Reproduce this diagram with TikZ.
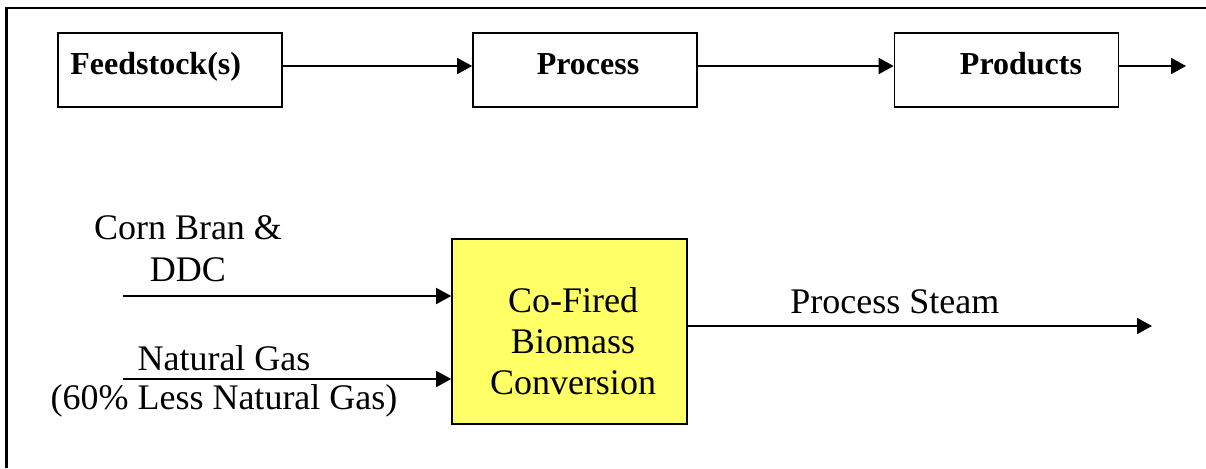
\documentclass[tikz,border=0pt]{standalone}
\usepackage{fontspec}
\setmainfont{Liberation Serif}
\usetikzlibrary{arrows.meta}
\definecolor{boxyellow}{RGB}{255,255,102}
\tikzset{
  topbox/.style={draw=black, line width=0.8pt, minimum width=112pt, minimum height=37pt, inner sep=0pt},
  toptext/.style={font=\fontsize{16}{19}\selectfont\bfseries, inner sep=0pt},
  lowtext/.style={font=\fontsize{18}{21}\selectfont, inner sep=0pt, align=center},
  ybox/.style={draw=black, fill=boxyellow, line width=0.8pt, minimum width=117.5pt, minimum height=92.5pt, inner sep=0pt},
  arr/.style={line width=0.8pt, -{Triangle[length=7.5pt,width=8pt]}},
  frameline/.style={line width=1.1pt}
}
\begin{document}
\begin{tikzpicture}[x=0.5pt, y=-0.5pt]
\useasboundingbox (0,0) rectangle (1206,468);
% frame
\draw[frameline] (6.5,468) -- (6.5,8) -- (1206,8);
% top row
\node[topbox] (feed) at (170,70) {};
\node[toptext, anchor=base west] (feedt) at (70,74) {Feedstock(s)};
\node[topbox] (proc) at (585,70) {};
\node[toptext, anchor=base] (proct) at (588,74) {Process};
\node[topbox] (prod) at (1006.5,70) {};
\node[toptext, anchor=base] (prodt) at (1021,74) {Products};
\coordinate (out) at (1186,66);
\draw[arr] (feed.east |- out) -- (proc.west |- out);
\draw[arr] (proc.east |- out) -- (prod.west |- out);
\draw[arr] (prod.east |- out) -- (out);
% bottom row
\node[ybox] (cfb) at (569.5,331.5) {};
\node[lowtext, font=\fontsize{18}{20.5}\selectfont] (cfbt) at (573,341) {Co-Fired\\Biomass\\Conversion};
\coordinate (in1) at (123,296);
\coordinate (in2) at (123,379);
\coordinate (steam) at (1152,326);
\node[lowtext] (corn) at (188,248.5) {Corn Bran \&\\DDC};
\node[lowtext, font=\fontsize{18}{19.5}\selectfont] (gas) at (224,381) {Natural Gas\\(60\% Less Natural Gas)};
\node[lowtext, anchor=base west] (steamt) at (790,313) {Process Steam};
\draw[arr] (in1) -- (in1 -| cfb.west);
\draw[arr] (in2) -- (in2 -| cfb.west);
\draw[arr] (cfb.east |- steam) -- (steam);
\end{tikzpicture}
\end{document}
